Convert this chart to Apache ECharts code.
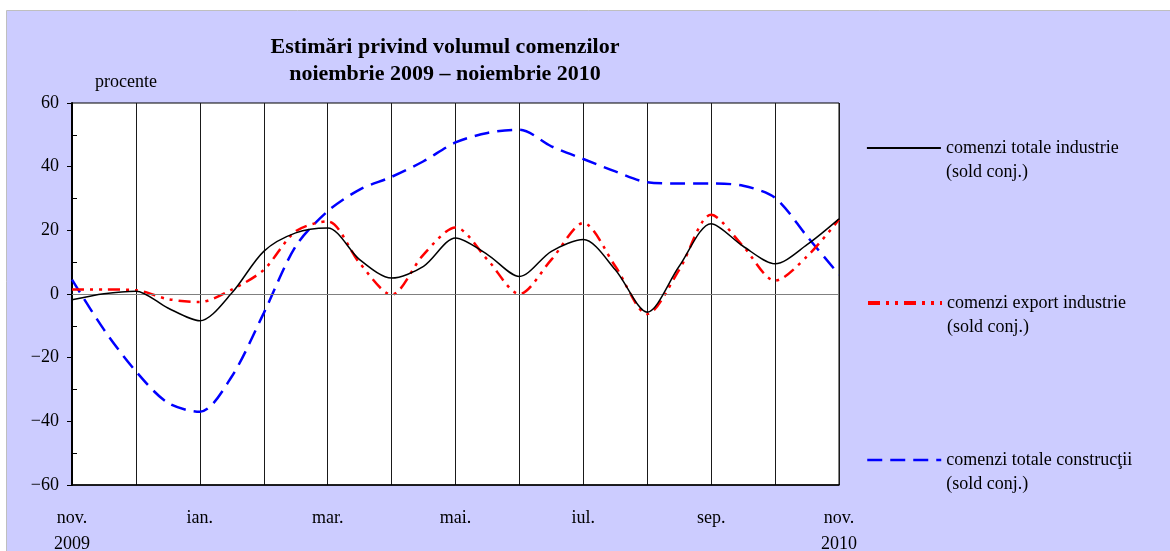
<!DOCTYPE html>
<html>
<head>
<meta charset="utf-8">
<script src="https://cdn.jsdelivr.net/npm/echarts@6/dist/echarts.min.js"></script>
<style>
html,body{margin:0;padding:0;background:#fff;}
#chart{width:1170px;height:551px;}
</style>
</head>
<body>
<div id="chart"></div>
<script>
// semi-monthly positions, nov 2009 .. nov 2010
const categories = [
  '1 nov. 2009','15 nov. 2009','1 dec. 2009','15 dec. 2009','1 ian. 2010','15 ian. 2010',
  '1 feb. 2010','15 feb. 2010','1 mar. 2010','15 mar. 2010','1 apr. 2010','15 apr. 2010',
  '1 mai. 2010','15 mai. 2010','1 iun. 2010','15 iun. 2010','1 iul. 2010','15 iul. 2010',
  '1 aug. 2010','15 aug. 2010','1 sep. 2010','15 sep. 2010','1 oct. 2010','15 oct. 2010',
  '1 nov. 2010'
];
const monthLabels = ['nov.\n2009','dec.','ian.','feb.','mar.','apr.','mai.','iun.','iul.','aug.','sep.','oct.','nov.\n2010'];
const yTicks = [-60, -40, -20, 0, 20, 40, 60];
const yMinorTicks = [-50, -30, -10, 10, 30, 50];

const totalIndustrie = [-1.8, 0.1, 0.9, -4.4, -8.4, 0.3, 13.4, 19.2, 20.7, 10.8, 5.0, 8.7, 17.6, 12.4, 5.5, 13.4, 17.1, 7.6, -5.7, 8.7, 22.1, 15.0, 9.5, 15.5, 23.6];
const exportIndustrie = [1.4, 1.4, 1.2, -1.6, -2.5, 1.4, 7.6, 19.7, 22.8, 9.7, -0.2, 12.4, 20.9, 10.8, 0.0, 10.8, 22.3, 8.7, -6.3, 7.6, 24.9, 15.0, 4.2, 11.8, 23.4];
const totalConstructii = [4.5, -11.2, -24.3, -34.2, -37.0, -25.9, -6.0, 15.0, 26.0, 32.8, 36.8, 41.7, 47.6, 50.6, 51.6, 46.4, 42.4, 38.5, 35.1, 34.7, 34.7, 34.0, 30.2, 18.1, 6.1];

const names = [
  'comenzi totale industrie\n(sold conj.)',
  'comenzi export industrie\n(sold conj.)',
  'comenzi totale construcţii\n(sold conj.)'
];

const FONT = '"Liberation Serif", "Times New Roman", serif';
const LH = 24;

function legendAt(name, iconCenter, lineWidth) {
  return {
    data: [name],
    left: 866,
    top: iconCenter - LH * 1.5,
    padding: 0,
    itemWidth: 74,
    itemHeight: 14,
    itemGap: 0,
    selectedMode: false,
    itemStyle: { opacity: 0, borderWidth: 0 },
    lineStyle: { width: lineWidth },
    formatter: function (n) { return '\u00a0\n' + n; },
    textStyle: {
      fontFamily: FONT, fontSize: 18, color: '#000', lineHeight: LH
    }
  };
}

const chart = echarts.init(document.getElementById('chart'), null, { renderer: 'canvas' });
chart.setOption({
  animation: false,
  backgroundColor: '#ffffff',
  graphic: [{
    type: 'rect', z: -10, silent: true,
    shape: { x: 6.5, y: 10.5, width: 1170, height: 545 },
    style: { fill: '#CCCCFF', stroke: '#BFBFBF', lineWidth: 1 }
  }],
  title: [{
    text: 'Estimări privind volumul comenzilor\nnoiembrie 2009 – noiembrie 2010',
    left: 445, top: 34, textAlign: 'center', padding: 0,
    textStyle: { fontFamily: FONT, fontSize: 22, fontWeight: 'bold', color: '#000', lineHeight: 27 }
  }, {
    text: 'procente', left: 95, top: 73, padding: 0,
    textStyle: { fontFamily: FONT, fontSize: 18, fontWeight: 'normal', color: '#000' }
  }],
  legend: [
    legendAt(names[0], 148, 1.8),
    legendAt(names[1], 303, 4),
    legendAt(names[2], 460, 2.5)
  ],
  grid: {
    left: 72, right: 331, top: 103, bottom: 66,
    show: true, backgroundColor: '#ffffff', borderColor: '#000', borderWidth: 1,
    containLabel: false,
    outerBoundsMode: 'none'
  },
  xAxis: {
    type: 'category',
    data: categories,
    boundaryGap: false,
    axisLine: { show: true, onZero: false, lineStyle: { color: '#000', width: 1.5 } },
    axisTick: { show: false },
    axisLabel: {
      interval: 3, margin: 20,
      fontFamily: FONT, fontSize: 18, color: '#000', lineHeight: 26,
      formatter: function (v, i) { return i % 2 === 0 ? monthLabels[i / 2] : ''; }
    },
    splitLine: { show: true, interval: 1, lineStyle: { color: '#1a1a1a', width: 1 } }
  },
  yAxis: [{
    type: 'value', min: -60, max: 60, interval: 20, position: 'left',
    axisLine: { show: true, onZero: false, lineStyle: { color: '#000', width: 2 } },
    axisTick: { show: true, inside: false, length: 5, lineStyle: { color: '#000', width: 1 } },
    axisLabel: {
      margin: 13, fontFamily: FONT, fontSize: 18, color: '#000',
      formatter: function (v) { return String(v).replace('-', '\u2212'); }
    },
    splitLine: { show: false }
  }, {
    type: 'value', min: -60, max: 60, position: 'left',
    axisLine: { show: false },
    axisLabel: { show: false },
    splitLine: { show: false },
    axisTick: { show: true, inside: true, length: 5, customValues: yMinorTicks, lineStyle: { color: '#000', width: 1 } }
  }],
  series: [{
    name: names[2], type: 'line', data: totalConstructii, smooth: 0.3,
    symbol: 'none', yAxisIndex: 0, z: 3,
    lineStyle: { color: '#0000FF', width: 2.5, type: [15, 8] },
    itemStyle: { color: '#0000FF' },
    markLine: {
      silent: true, symbol: 'none', label: { show: false },
      lineStyle: { color: '#808080', width: 1, type: 'solid' },
      data: [{ yAxis: 0 }]
    }
  }, {
    name: names[1], type: 'line', data: exportIndustrie, smooth: 0.3,
    symbol: 'none', yAxisIndex: 0, z: 4,
    lineStyle: { color: '#FF0000', width: 2.5, type: [12, 6, 3, 6, 3, 6] },
    itemStyle: { color: '#FF0000' }
  }, {
    name: names[0], type: 'line', data: totalIndustrie, smooth: 0.3,
    symbol: 'none', yAxisIndex: 0, z: 5,
    lineStyle: { color: '#000000', width: 1.5, type: 'solid' },
    itemStyle: { color: '#000000' }
  }]
});
</script>
</body>
</html>
